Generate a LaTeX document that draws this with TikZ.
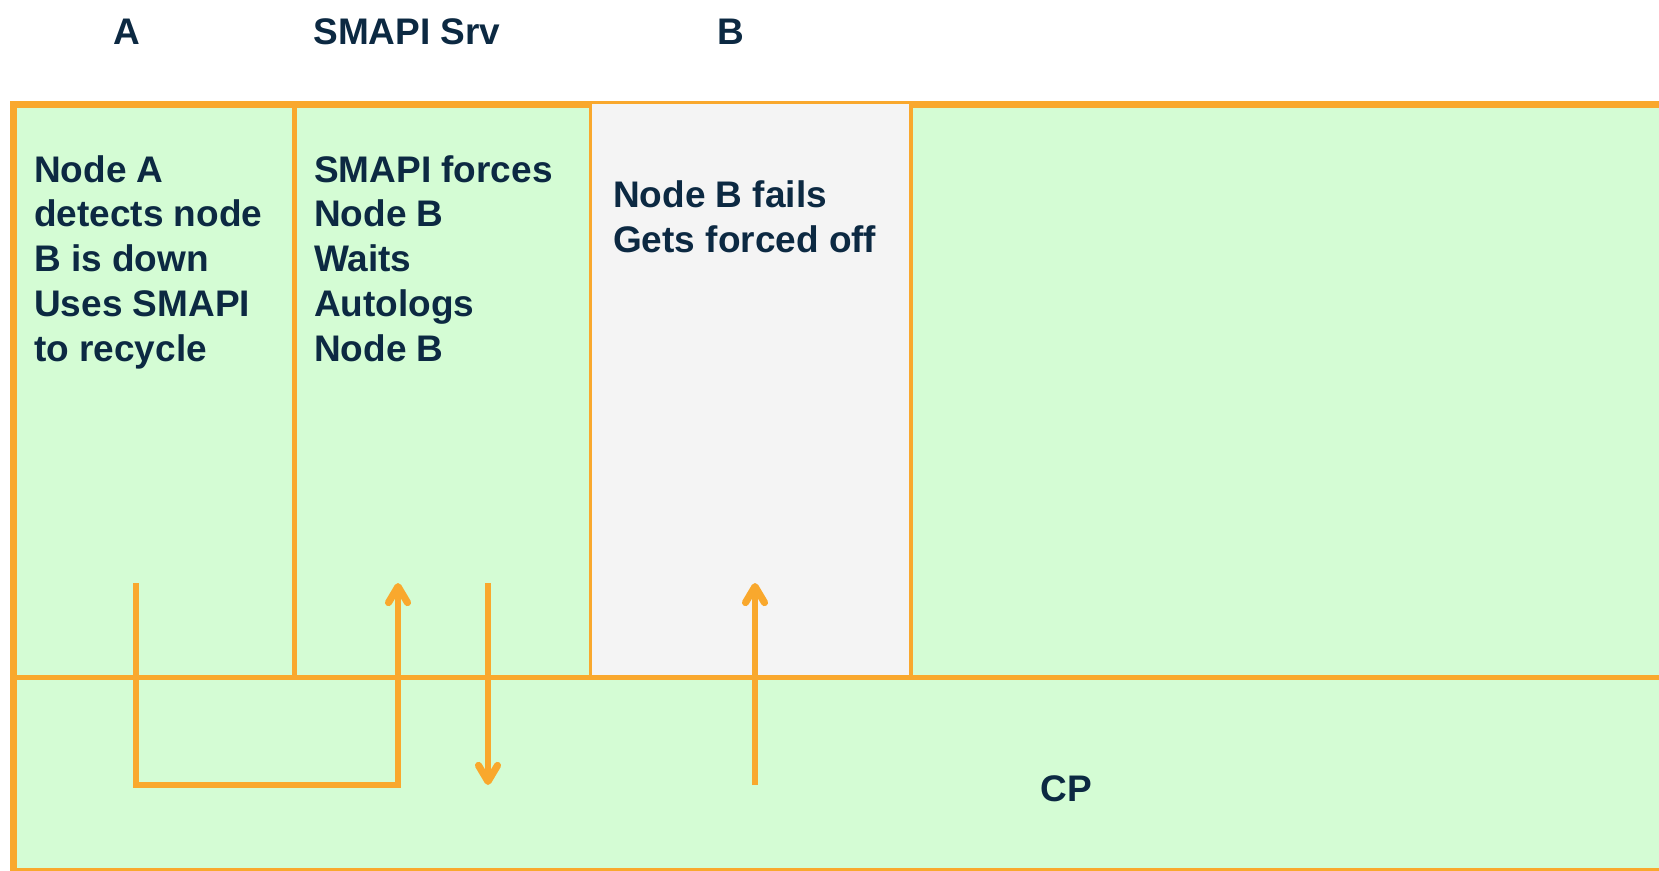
\documentclass[tikz,border=0pt]{standalone}
\usepackage{fontspec}
\setmainfont{Liberation Sans}
\usetikzlibrary{positioning}
\usetikzlibrary{arrows.meta}
\definecolor{lanegreen}{RGB}{212,252,212}
\definecolor{laneorange}{RGB}{249,168,45}
\definecolor{lanegrey}{RGB}{244,244,244}
\definecolor{laneink}{RGB}{12,41,66}

\begin{document}
\begin{tikzpicture}
    [
    x=1pt, y=-1pt,
    every lane/.style={rectangle, inner sep=0pt, outer sep=0pt, anchor=north west},
    lane/.style={every lane, draw=laneorange, line width=5pt},
    board/.style={every lane, draw=laneorange, fill=lanegreen, line width=7pt},
    downlane/.style={every lane, draw=laneorange, fill=lanegrey, line width=2.5pt},
    heading/.style={anchor=base, inner sep=0pt, text=laneink, font=\bfseries\fontsize{37}{44.7}\selectfont},
    lanetext/.style={anchor=base west, align=left, inner sep=0pt, text=laneink, font=\bfseries\fontsize{37}{44.7}\selectfont},
    flow/.style={draw=laneorange, line width=5.5pt, -{Straight Barb[round, length=16pt, width=19pt, line width=0pt 1.3]}},
    ]
    \useasboundingbox (0,0) rectangle (1659,870);

    \node[board, minimum width=1700pt, minimum height=767pt] (board) at (13,104) {};
    \node[lane, minimum width=281pt, minimum height=573pt] (lane_a) at (13,104) {};
    \node[lane, minimum width=297pt, minimum height=573pt] (lane_srv) at (294,104) {};
    \node[lane, minimum width=800pt, minimum height=573pt] (lane_rest) at (910,104) {};
    \node[downlane, minimum width=319pt, minimum height=574pt] (lane_b) at (591,103) {};
    \draw[laneorange, line width=5pt] (lane_a.south west) -- (lane_rest.south east);

    \node[heading] (head_a) at (127,44) {A};
    \node[heading] (head_srv) at (407,44) {SMAPI Srv};
    \node[heading] (head_b) at (731,44) {B};
    \node[heading] (head_cp) at (1066,801) {CP};

    % base anchor sits on the last line
    \node[lanetext] (text_a) at (34,361)
    {Node A\\detects node\\B is down\\Uses SMAPI\\to recycle};
    \node[lanetext] (text_srv) at (314,361)
    {SMAPI forces\\Node B\\Waits\\Autologs\\Node B};
    \node[lanetext] (text_b) at (613,252)
    {Node B fails\\Gets forced off};

    \coordinate (a_out) at (136,583);
    \coordinate (srv_in) at (398,583);
    \coordinate (srv_out) at (488,583);
    \coordinate (srv_down) at (488,785);
    \coordinate (b_up) at (755,785);
    \coordinate (b_in) at (755,583);

    \draw[flow] (a_out) -- ++(0,202) -| (srv_in);
    \draw[flow] (srv_out) -- (srv_down);
    \draw[flow] (b_up) -- (b_in);
\end{tikzpicture}
\end{document}
